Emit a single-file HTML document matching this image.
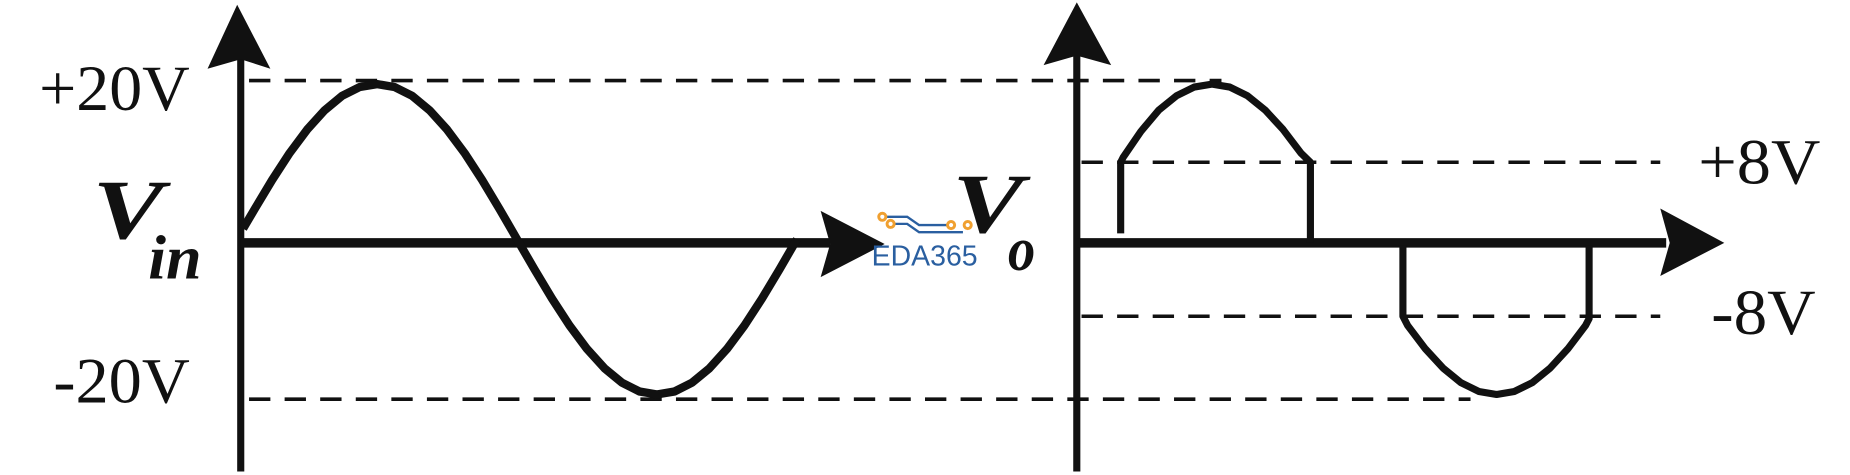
<!DOCTYPE html>
<html><head><meta charset="utf-8"><style>
html,body{margin:0;padding:0;background:#fff;}
svg{display:block;}
</style></head><body>
<svg width="1850" height="475" viewBox="0 0 1560 401" preserveAspectRatio="none" xmlns="http://www.w3.org/2000/svg">
<g stroke="#111" fill="none">
<g stroke-width="3" stroke-dasharray="18,12">
<line x1="210" y1="68" x2="1030" y2="68"/>
<line x1="210" y1="337" x2="1240" y2="337"/>
<line x1="912" y1="137" x2="1400" y2="137"/>
<line x1="912" y1="267" x2="1400" y2="267"/>
</g>
<line x1="203" y1="40" x2="203" y2="398" stroke-width="6"/>
<line x1="203" y1="205" x2="700" y2="205" stroke-width="8"/>
<line x1="908" y1="40" x2="908" y2="398" stroke-width="6"/>
<line x1="908" y1="205" x2="1405" y2="205" stroke-width="8"/>
<polyline stroke-width="7" stroke-linejoin="round" points="205,193 214.75,176.5 229.5,151.9 244.25,129.2 259,109.4 273.75,93.1 288.5,80.9 303.25,73.5 318,71 332.75,73.5 347.5,80.9 362.25,93.1 377,109.4 391.75,129.2 406.5,151.9 421.25,176.5 436,202 450.75,227.5 465.5,252.1 480.25,274.8 495,294.6 509.75,310.9 524.5,323.1 539.25,330.5 554,333 568.75,330.5 583.5,323.1 598.25,310.9 613,294.6 627.75,274.8 642.5,252.1 657.25,227.5 672,202"/>
<polyline stroke-width="6" stroke-linejoin="round" points="945,197 945,137 947,133 962,111 977,93.1 992,80.9 1007,73.5 1022,71 1037,73.5 1052,80.9 1067,93.1 1082,109.4 1097,129.2 1105,137 1105,205"/>
<polyline stroke-width="6" stroke-linejoin="round" points="1183,207 1183,267 1187,274.8 1202,294.6 1217,310.9 1232,323.1 1247,330.5 1262,333 1277,330.5 1292,323.1 1307,310.9 1322,294.6 1337,274.8 1340,269 1340,207"/>
</g>
<g fill="#111">
<polygon points="200,4 175,58 203,50 228,58"/>
<polygon points="908,2 880,55 908,47 937,55"/>
<polygon points="746,206 692,178 700,206 692,234"/>
<polygon points="1454,205 1400,176 1408,205 1400,233"/>
</g>
<g font-family="Liberation Serif, serif" fill="#111">
<text transform="translate(33,93) scale(1,1.18)" font-size="46" textLength="127" lengthAdjust="spacingAndGlyphs">+20V</text>
<text transform="translate(45,340) scale(1,1.18)" font-size="46" textLength="115" lengthAdjust="spacingAndGlyphs">-20V</text>
<text transform="translate(1432,155) scale(1,1.18)" font-size="46" textLength="103" lengthAdjust="spacingAndGlyphs">+8V</text>
<text transform="translate(1443,282) scale(1,1.18)" font-size="46" textLength="88" lengthAdjust="spacingAndGlyphs">-8V</text>
<text transform="translate(78,201) scale(1,1.15)" font-size="62" font-style="italic" font-weight="bold" textLength="60" lengthAdjust="spacingAndGlyphs">V</text>
<text transform="translate(125,235) scale(1,1.15)" font-size="46" font-style="italic" font-weight="bold" textLength="45" lengthAdjust="spacingAndGlyphs">in</text>
<text transform="translate(803,196) scale(1,1.15)" font-size="62" font-style="italic" font-weight="bold" textLength="60" lengthAdjust="spacingAndGlyphs">V</text>
<text transform="translate(850,228) scale(1,1.15)" font-size="46" font-style="italic" font-weight="bold">o</text>
</g>
<g stroke="#2a5fa0" stroke-width="2" fill="none">
<polyline points="747,183 765,183 775,190 800,190"/>
<polyline points="751,189 765,189 775,196 812,196"/>
</g>
<g stroke="#f0a030" stroke-width="2.5" fill="#fff">
<circle cx="744" cy="183" r="3"/><circle cx="751" cy="189" r="3"/><circle cx="802" cy="190" r="3"/><circle cx="816" cy="190" r="3"/>
</g>
<text x="735" y="224" font-size="24" font-family="Liberation Sans, sans-serif" fill="#2a5fa0">EDA365</text>
</svg>
</body></html>
